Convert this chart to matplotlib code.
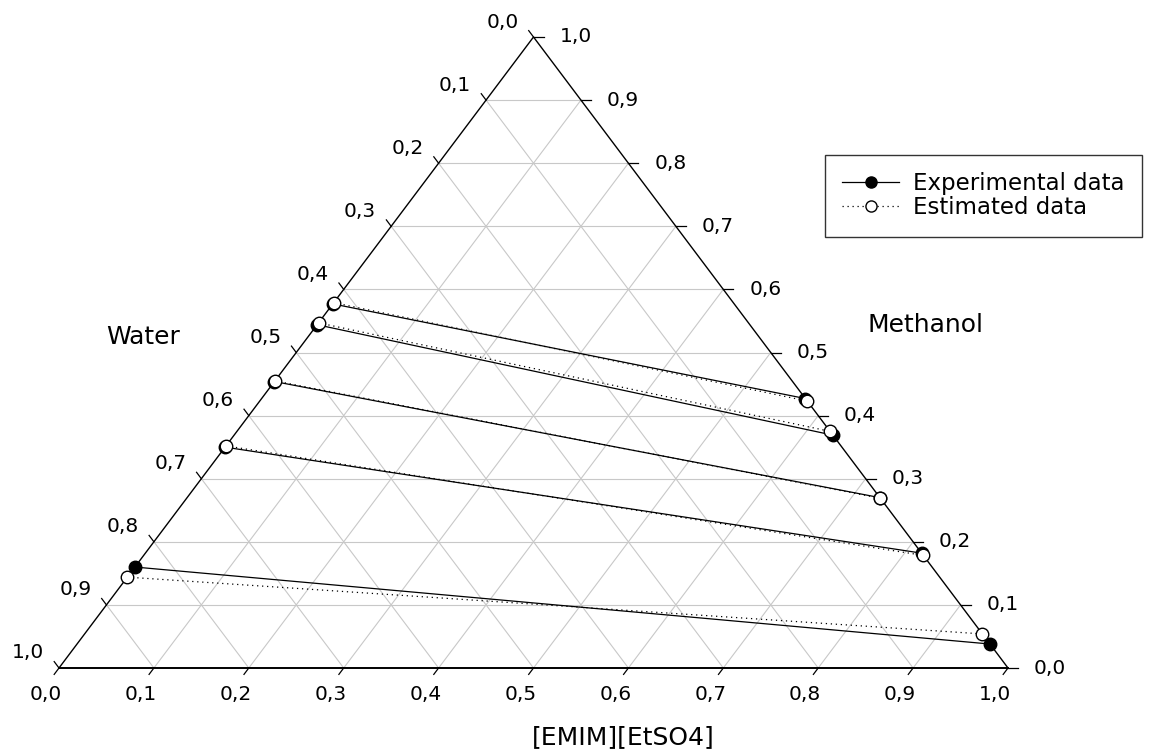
import numpy as np
import matplotlib
matplotlib.use("Agg")
import matplotlib.pyplot as plt
from matplotlib.lines import Line2D

plt.rcParams['font.family'] = ['DejaVu Sans']

# tie lines: mass fractions of [EMIM][EtSO4] and methanol (water = rest)
exp_il_left    = [0.000, 0.000, 0.000, 0.000, 0.000]
exp_meoh_left  = [0.160, 0.350, 0.454, 0.544, 0.577]
exp_il_right   = [0.962, 0.818, 0.730, 0.631, 0.573]
exp_meoh_right = [0.038, 0.182, 0.270, 0.369, 0.427]

est_il_left    = [0.000, 0.000, 0.000, 0.000, 0.000]
est_meoh_left  = [0.144, 0.352, 0.455, 0.547, 0.579]
est_il_right   = [0.946, 0.8215, 0.731, 0.625, 0.577]
est_meoh_right = [0.054, 0.1785, 0.269, 0.375, 0.423]

ticks = np.round(np.arange(0, 1.01, 0.1), 1)
tick_labels = [f"{t:.1f}".replace('.', ',') for t in ticks]

# pixel geometry of the triangle
PX0, PY0 = 59, 668      # bottom-left vertex
W, H = 949, 631         # base width / height in pixels


def tern(il, meoh):
    il = np.asarray(il, float)
    meoh = np.asarray(meoh, float)
    return il + meoh / 2, meoh


fig = plt.figure(figsize=(11.5, 7.52), dpi=100)
ax = fig.add_axes([0, 0, 1, 1])
ax.axis('off')
ax.set_xlim(-PX0 / W, (1150 - PX0) / W)
ax.set_ylim((PY0 - 752) / H, PY0 / H)

grid_kw = dict(color='#c8c8c8', lw=0.8, zorder=1)
for t in ticks[1:-1]:
    # constant methanol (horizontal)
    ax.plot([t / 2, 1 - t / 2], [t, t], **grid_kw)
    # constant IL
    x, y = tern([t, t], [0, 1 - t])
    ax.plot(x, y, **grid_kw)
    # constant water
    x, y = tern([1 - t, 0], [0, 1 - t])
    ax.plot(x, y, **grid_kw)

# triangle frame
ax.plot([0, 0.5, 1], [0, 1, 0], color='black', lw=1.0, zorder=3)
ax.plot([0, 1], [0, 0], color='black', lw=1.4, zorder=3)


def pix(dx, dy):
    # pixel offset (y up) -> data offset
    return dx / W, dy / H


tick_kw = dict(color='black', lw=0.9, zorder=3)
L = 8
FS = 14.5
for t, lab in zip(ticks, tick_labels):
    # bottom axis: IL
    bx, by = t, 0.0
    dx, dy = pix(-0.602 * L, -0.799 * L)
    ax.plot([bx, bx + dx], [by, by + dy], **tick_kw)
    ax.annotate(lab, (bx, by), xytext=(-13, -26), textcoords='offset pixels',
                ha='center', va='center', fontsize=FS)
    # left axis: water (0 at top)
    lx, ly = tern(0, 1 - t)
    dx, dy = pix(-0.6 * L, 0.8 * L)
    ax.plot([lx, lx + dx], [ly, ly + dy], **tick_kw)
    ax.annotate(lab, (lx, ly), xytext=(-31, 15), textcoords='offset pixels',
                ha='center', va='center', fontsize=FS)
    # right axis: methanol (1 at top)
    rx, ry = tern(1 - t, t)
    dx, dy = pix(10, 0)
    ax.plot([rx, rx + dx], [ry, ry + dy], **tick_kw)
    ax.annotate(lab, (rx, ry), xytext=(42, 0), textcoords='offset pixels',
                ha='center', va='center', fontsize=FS)

# tie lines
for i in range(len(exp_meoh_left)):
    x, y = tern([exp_il_left[i], exp_il_right[i]], [exp_meoh_left[i], exp_meoh_right[i]])
    ax.plot(x, y, color='black', lw=0.9, marker='o', ms=9,
            mfc='black', mec='black', zorder=4)
for i in range(len(est_meoh_left)):
    x, y = tern([est_il_left[i], est_il_right[i]], [est_meoh_left[i], est_meoh_right[i]])
    ax.plot(x, y, color='black', lw=0.9, ls=(0, (1, 3)), marker='o', ms=9,
            mfc='white', mec='black', mew=1.0, zorder=5)

# axis titles
fig.text(143 / 1150, 1 - 337 / 752, 'Water', ha='center', va='center', fontsize=18)
fig.text(926 / 1150, 1 - 325 / 752, 'Methanol', ha='center', va='center', fontsize=18)
fig.text(623 / 1150, 1 - 737 / 752, '[EMIM][EtSO4]', ha='center', va='center', fontsize=18)

handles = [
    Line2D([], [], color='black', lw=0.9, marker='o', ms=8, mfc='black', mec='black'),
    Line2D([], [], color='black', lw=0.9, ls=(0, (1, 3)), marker='o', ms=8,
           mfc='white', mec='black'),
]
leg = ax.legend(handles, ['Experimental data', 'Estimated data'],
                loc='upper left', bbox_to_anchor=(825 / 1150, 1 - 155 / 752),
                bbox_transform=fig.transFigure, fontsize=16.5, frameon=True,
                fancybox=False, edgecolor='black', borderaxespad=0,
                handlelength=2.5, handletextpad=0.6, labelspacing=0.05,
                borderpad=0.75)
leg.get_frame().set_linewidth(1.0)

fig.savefig('out.png', dpi=100)
